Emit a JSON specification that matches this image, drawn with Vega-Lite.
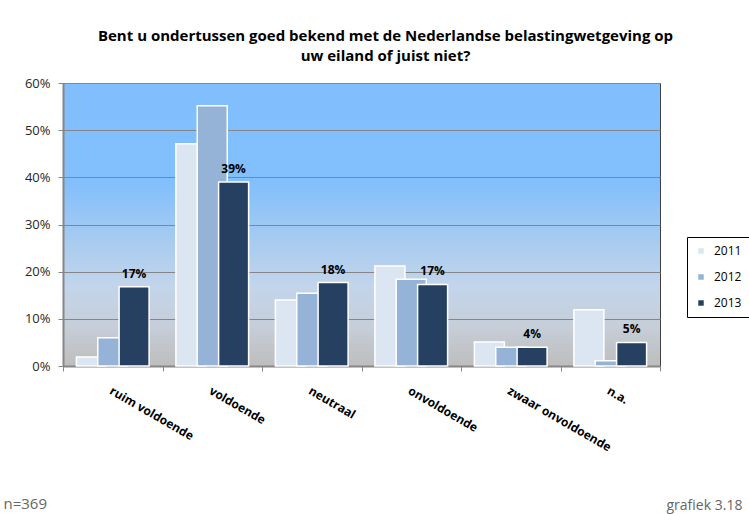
{
  "$schema": "https://vega.github.io/schema/vega-lite/v6.json",
  "width": 597,
  "height": 283,
  "autosize": {"type": "none"},
  "padding": {"left": 63, "top": 83, "right": 89, "bottom": 148},
  "background": "white",
  "title": {
    "text": ["Bent u ondertussen goed bekend met de Nederlandse belastingwetgeving op", "uw eiland of juist niet?"],
    "font": "Open Sans",
    "fontSize": 15,
    "fontWeight": "bold",
    "color": "black",
    "lineHeight": 20,
    "anchor": "middle",
    "dx": 24,
    "offset": 13
  },
  "data": {
    "values": [
      {"categorie": "ruim voldoende", "jaar": "2011", "aandeel": 0.019},
      {"categorie": "voldoende", "jaar": "2011", "aandeel": 0.471},
      {"categorie": "neutraal", "jaar": "2011", "aandeel": 0.14},
      {"categorie": "onvoldoende", "jaar": "2011", "aandeel": 0.212},
      {"categorie": "zwaar onvoldoende", "jaar": "2011", "aandeel": 0.051},
      {"categorie": "n.a.", "jaar": "2011", "aandeel": 0.119},
      {"categorie": "ruim voldoende", "jaar": "2012", "aandeel": 0.06},
      {"categorie": "voldoende", "jaar": "2012", "aandeel": 0.552},
      {"categorie": "neutraal", "jaar": "2012", "aandeel": 0.154},
      {"categorie": "onvoldoende", "jaar": "2012", "aandeel": 0.184},
      {"categorie": "zwaar onvoldoende", "jaar": "2012", "aandeel": 0.04},
      {"categorie": "n.a.", "jaar": "2012", "aandeel": 0.011},
      {"categorie": "ruim voldoende", "jaar": "2013", "aandeel": 0.168},
      {"categorie": "voldoende", "jaar": "2013", "aandeel": 0.39},
      {"categorie": "neutraal", "jaar": "2013", "aandeel": 0.177},
      {"categorie": "onvoldoende", "jaar": "2013", "aandeel": 0.173},
      {"categorie": "zwaar onvoldoende", "jaar": "2013", "aandeel": 0.04},
      {"categorie": "n.a.", "jaar": "2013", "aandeel": 0.05}
    ]
  },
  "encoding": {
    "x": {
      "field": "categorie",
      "type": "nominal",
      "sort": ["ruim voldoende", "voldoende", "neutraal", "onvoldoende", "zwaar onvoldoende", "n.a."],
      "scale": {"paddingInner": 0, "paddingOuter": 0},
      "axis": {
        "title": "n=369",
        "titleX": -60,
        "titleY": 137,
        "titleAlign": "left",
        "titleBaseline": "middle",
        "titleFont": "Open Sans",
        "titleFontSize": 15,
        "titleFontWeight": "normal",
        "titleColor": "#666666",
        "labelAngle": 30,
        "labelAlign": "left",
        "labelBaseline": "top",
        "labelPadding": 14,
        "labelFont": "Open Sans",
        "labelFontSize": 12,
        "labelFontWeight": "bold",
        "labelColor": "black",
        "labelLimit": 0,
        "tickBand": "extent",
        "tickSize": 5,
        "tickColor": "#868686",
        "domainColor": "#868686",
        "domainWidth": 2,
        "grid": false
      }
    },
    "xOffset": {
      "field": "jaar",
      "type": "nominal",
      "scale": {"paddingInner": 0, "paddingOuter": 0.83}
    },
    "y": {
      "field": "aandeel",
      "type": "quantitative",
      "scale": {"domain": [0, 0.6], "nice": false},
      "axis": {
        "values": [0, 0.1, 0.2, 0.3, 0.4, 0.5, 0.6],
        "format": ".0%",
        "title": "grafiek 3.18",
        "titleAngle": 0,
        "titleX": 603,
        "titleY": 422,
        "titleAlign": "left",
        "titleBaseline": "middle",
        "titleFont": "Open Sans",
        "titleFontSize": 14,
        "titleFontWeight": "normal",
        "titleColor": "#666666",
        "labelFont": "Open Sans",
        "labelFontSize": 13,
        "labelColor": "#262626",
        "labelPadding": 8,
        "tickSize": 5,
        "tickColor": "#868686",
        "domainColor": "#868686",
        "domainWidth": 2,
        "gridColor": "#868686",
        "gridWidth": 1
      }
    }
  },
  "layer": [
    {
      "mark": {"type": "bar", "width": 30, "stroke": "white", "strokeWidth": 1.5},
      "encoding": {
        "color": {
          "field": "jaar",
          "type": "nominal",
          "scale": {"domain": ["2011", "2012", "2013"], "range": ["#DCE6F2", "#95B3D7", "#254061"]},
          "legend": {
            "orient": "none",
            "legendX": 624,
            "legendY": 154,
            "title": null,
            "strokeColor": "black",
            "padding": 8,
            "symbolType": "square",
            "symbolSize": 30,
            "symbolStrokeWidth": 0,
            "labelOffset": 7,
            "labelFont": "Open Sans",
            "labelFontSize": 12,
            "labelColor": "black",
            "rowPadding": 14,
            "fillColor": "white"
          }
        }
      }
    },
    {
      "transform": [{"filter": "datum.jaar == '2013'"}],
      "mark": {"type": "text", "baseline": "bottom", "dy": -6, "font": "Open Sans", "fontSize": 12, "fontWeight": "bold", "color": "black"},
      "encoding": {
        "text": {"field": "aandeel", "type": "quantitative", "format": ".0%"}
      }
    }
  ],
  "config": {
    "view": {
      "stroke": "#404040",
      "strokeWidth": 1,
      "fill": {
        "gradient": "linear",
        "x1": 0, "y1": 0, "x2": 0, "y2": 1,
        "stops": [
          {"offset": 0, "color": "#80BEFE"},
          {"offset": 0.35, "color": "#82BFFC"},
          {"offset": 0.55, "color": "#A6CBF0"},
          {"offset": 0.72, "color": "#C3D5EB"},
          {"offset": 0.86, "color": "#C6CED8"},
          {"offset": 1, "color": "#BDBDBD"}
        ]
      }
    }
  }
}
